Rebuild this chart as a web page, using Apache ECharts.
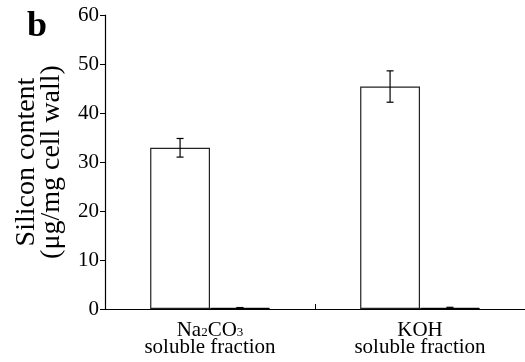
<!DOCTYPE html>
<html><head><meta charset="utf-8">
<script src="https://cdn.jsdelivr.net/npm/echarts@6/dist/echarts.min.js"></script>
<style>html,body{margin:0;padding:0;background:#fff}#c{width:525px;height:362px}</style>
</head><body><div id="c"></div>
<script>
const categories = ['Na{sub|2}CO{sub|3}\nsoluble fraction', 'KOH\nsoluble fraction'];
const series1Values = [32.9, 45.4];
const series1Err = [1.9, 3.2];
const series2Values = [0.25, 0.25];
const series2Err = [0.05, 0.1];
const yTicks = [0, 10, 20, 30, 40, 50, 60];

const FONT = '"Liberation Serif", "Times New Roman", serif';
const chart = echarts.init(document.getElementById('c'));

function errSeries(vals, errs, idx) {
  return {
    type: 'custom',
    z: 10,
    data: vals.map((v, i) => [i, v - errs[i], v + errs[i]]),
    renderItem: function (params, api) {
      const cat = api.value(0);
      const lo = api.coord([cat, api.value(1)]);
      const hi = api.coord([cat, api.value(2)]);
      const bw = api.size([1, 0])[0];
      const barW = bw * 0.285;
      const x = lo[0] + (idx === 0 ? -barW / 2 : barW / 2);
      const cap = 3.5;
      const st = { stroke: '#000', lineWidth: 1.2 };
      return { type: 'group', children: [
        { type: 'line', shape: { x1: x, y1: lo[1], x2: x, y2: hi[1] }, style: st },
        { type: 'line', shape: { x1: x - cap, y1: lo[1], x2: x + cap, y2: lo[1] }, style: st },
        { type: 'line', shape: { x1: x - cap, y1: hi[1], x2: x + cap, y2: hi[1] }, style: st }
      ]};
    }
  };
}

chart.setOption({
  animation: false,
  backgroundColor: '#fff',
  grid: { left: 105, right: 0, top: 15, bottom: 53, containLabel: false, outerBoundsMode: 'none' },
  graphic: [{ type: 'text', left: 27, top: 9, style: { text: 'b', font: 'bold 36px ' + FONT, fill: '#000' } }],
  xAxis: {
    type: 'category',
    data: categories,
    axisLine: { lineStyle: { color: '#000', width: 1.2 } },
    axisTick: { show: true, inside: true, length: 5, interval: 0, lineStyle: { color: '#000' } },
    axisLabel: {
      interval: 0,
      color: '#000', fontFamily: FONT, fontSize: 21, lineHeight: 17, margin: 13,
      rich: { sub: { fontSize: 13, fontFamily: FONT, color: '#000', verticalAlign: 'bottom', padding: [5, 0, 0, 0] } }
    }
  },
  yAxis: {
    type: 'value', min: 0, max: 60, interval: 10,
    name: 'Silicon content\n(μg/mg cell wall)',
    nameLocation: 'middle', nameRotate: 90, nameGap: 41,
    nameTextStyle: { color: '#000', fontFamily: FONT, fontSize: 28, lineHeight: 25 },
    axisLine: { show: true, lineStyle: { color: '#000', width: 1.2 } },
    axisTick: { show: true, length: 5, lineStyle: { color: '#000' } },
    splitLine: { show: false },
    axisLabel: { color: '#000', fontFamily: FONT, fontSize: 21, margin: 6,
      formatter: v => yTicks.includes(v) ? String(v) : '' }
  },
  series: [
    { type: 'bar', data: series1Values, barWidth: '28.5%', barGap: '0%',
      itemStyle: { color: '#fff', borderColor: '#222', borderWidth: 1.2 } },
    { type: 'bar', data: series2Values, barWidth: '28.5%', barGap: '0%',
      itemStyle: { color: '#000', borderColor: '#000', borderWidth: 1 } },
    errSeries(series1Values, series1Err, 0),
    errSeries(series2Values, series2Err, 1)
  ]
});
</script></body></html>
